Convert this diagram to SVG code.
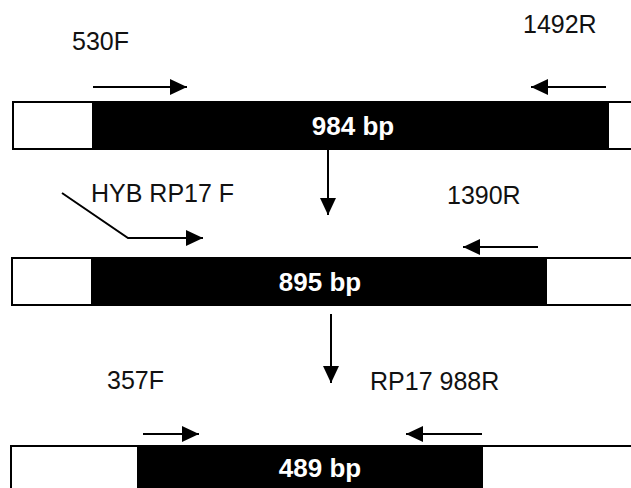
<svg xmlns="http://www.w3.org/2000/svg" width="631" height="488" viewBox="0 0 631 488">
<defs>
<marker id="ah" markerWidth="17" markerHeight="16" refX="17" refY="8" orient="auto" markerUnits="userSpaceOnUse">
<path d="M0,0 L17,8 L0,16 Z" fill="#000"/>
</marker>
<style>
.lbl{font-family:"Liberation Sans",Arial,sans-serif;font-size:25px;fill:#111}
.bp{font-family:"Liberation Sans",Arial,sans-serif;font-size:26px;font-weight:bold;fill:#fff;text-anchor:middle}
.bar{fill:#fff;stroke:#000;stroke-width:2}
.ins{fill:#000}
.ln{stroke:#000;stroke-width:2;fill:none}
</style>
</defs>
<rect width="631" height="488" fill="#fff"/>
<g id="bar1">
<rect class="bar" x="13" y="102" width="630" height="47"/>
<rect class="ins" x="92" y="102" width="517" height="47"/>
<text class="bp" x="353" y="135">984 bp</text>
</g>
<g id="bar2">
<rect class="bar" x="12" y="258" width="630" height="47"/>
<rect class="ins" x="91" y="258" width="456" height="47"/>
<text class="bp" x="320" y="291">895 bp</text>
</g>
<g id="bar3">
<rect class="bar" x="11" y="446" width="630" height="60"/>
<rect class="ins" x="137" y="446" width="346" height="50"/>
<text class="bp" x="320" y="477">489 bp</text>
</g>
<g id="labels">
<text class="lbl" x="72" y="50">530F</text>
<text class="lbl" x="523" y="33">1492R</text>
<text class="lbl" x="91" y="202">HYB RP17 F</text>
<text class="lbl" x="447" y="204">1390R</text>
<text class="lbl" x="107" y="389">357F</text>
<text class="lbl" x="370" y="390">RP17 988R</text>
</g>
<g id="connectors">
<line class="ln" x1="93" y1="87" x2="187" y2="87" marker-end="url(#ah)"/>
<line class="ln" x1="606" y1="87" x2="531" y2="87" marker-end="url(#ah)"/>
<line class="ln" x1="328" y1="149" x2="328" y2="215" marker-end="url(#ah)"/>
<polyline class="ln" points="62,193 128,238 203,238" marker-end="url(#ah)"/>
<line class="ln" x1="538" y1="247" x2="463" y2="247" marker-end="url(#ah)"/>
<line class="ln" x1="331" y1="314" x2="331" y2="383" marker-end="url(#ah)"/>
<line class="ln" x1="143" y1="434" x2="199" y2="434" marker-end="url(#ah)"/>
<line class="ln" x1="482" y1="434" x2="406" y2="434" marker-end="url(#ah)"/>
</g>
</svg>
